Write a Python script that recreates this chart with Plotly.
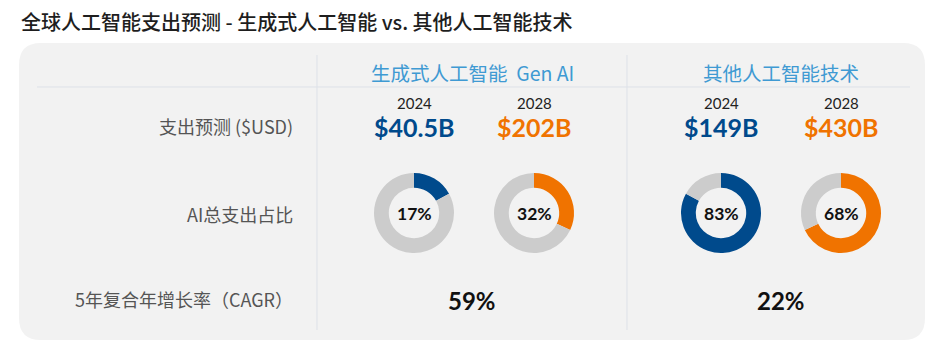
import plotly.graph_objects as go

W, H = 943, 353

title = "全球人工智能支出预测 - 生成式人工智能 vs. 其他人工智能技术"
groups = ["生成式人工智能  Gen AI", "其他人工智能技术"]
row_labels = ["支出预测 ($USD)", "AI总支出占比", "5年复合年增长率（CAGR）"]
years = ["2024", "2028", "2024", "2028"]
spend = ["$40.5B", "$202B", "$149B", "$430B"]
share = [17, 32, 83, 68]
cagr = ["59%", "22%"]

BLUE = "#004a8c"
ORANGE = "#f07300"
GRAY = "#cccccc"
HEAD = "#3f9ad3"
CJK = "Noto Sans CJK SC"
NUM = "Lato"

# layout positions (pixels)
col_x = [414, 534, 721, 841]
group_x = [472, 781]
series_colors = [BLUE, ORANGE, BLUE, ORANGE]
donut_cy = 213
donut_r = 40

fig = go.Figure()

# invisible scatter to establish pixel axes
fig.add_trace(go.Scatter(x=[0, W], y=[0, H], mode="markers",
                         marker=dict(opacity=0), hoverinfo="skip", showlegend=False))

for i, v in enumerate(share):
    cx = col_x[i]
    fig.add_trace(go.Pie(
        values=[v, 100 - v],
        marker=dict(colors=[series_colors[i], GRAY], line=dict(width=0)),
        hole=0.63, sort=False, direction="clockwise", rotation=0,
        textinfo="none", hoverinfo="skip", showlegend=False,
        domain=dict(x=[(cx - donut_r) / W, (cx + donut_r) / W],
                    y=[(H - donut_cy - donut_r) / H, (H - donut_cy + donut_r) / H]),
    ))

shapes = []
# rounded panel
x0, y0, x1, y1, r = 19, 43, 925, 340, 22
path = (f"M {x0+r},{y0} L {x1-r},{y0} Q {x1},{y0} {x1},{y0+r} "
        f"L {x1},{y1-r} Q {x1},{y1} {x1-r},{y1} L {x0+r},{y1} "
        f"Q {x0},{y1} {x0},{y1-r} L {x0},{y0+r} Q {x0},{y0} {x0+r},{y0} Z")
shapes.append(dict(type="path", path=path, xref="x", yref="y",
                   fillcolor="#f2f2f2", line=dict(width=0), layer="below"))
# horizontal rule
shapes.append(dict(type="line", x0=37, x1=910, y0=87, y1=87, xref="x", yref="y",
                   line=dict(color="#dde1e8", width=1), layer="below"))
# vertical rules
for vx in [317, 627]:
    shapes.append(dict(type="line", x0=vx, x1=vx, y0=55, y1=330, xref="x", yref="y",
                       line=dict(color="#dde1e8", width=1), layer="below"))

ann = []
ann.append(dict(x=19, y=21, text=title, xanchor="left", yanchor="middle", showarrow=False,
                font=dict(family=CJK, size=20, color="#1e1e1e", weight=500)))
for gx, g in zip(group_x, groups):
    ann.append(dict(x=gx, y=72, text=g, xanchor="center", yanchor="middle", showarrow=False,
                    font=dict(family=CJK, size=19.5, color=HEAD)))
for ry, lab in zip([126, 214, 299], row_labels):
    ann.append(dict(x=295, y=ry, text=lab, xanchor="right", yanchor="middle", showarrow=False,
                    font=dict(family=CJK, size=18, color="#555555")))
for i in range(4):
    ann.append(dict(x=col_x[i], y=103, text=years[i], xanchor="center", yanchor="middle",
                    showarrow=False, font=dict(family=NUM, size=15, color="#222222")))
    ann.append(dict(x=col_x[i], y=127, text=f"<b>{spend[i]}</b>", xanchor="center",
                    yanchor="middle", showarrow=False,
                    font=dict(family=NUM, size=25, color=series_colors[i])))
    ann.append(dict(x=col_x[i], y=donut_cy, text=f"<b>{share[i]}%</b>", xanchor="center",
                    yanchor="middle", showarrow=False,
                    font=dict(family=NUM, size=17.5, color="#111111")))
for gx, c in zip(group_x, cagr):
    ann.append(dict(x=gx, y=300, text=f"<b>{c}</b>", xanchor="center", yanchor="middle",
                    showarrow=False, font=dict(family=NUM, size=24, color="#111111")))

fig.update_layout(
    width=W, height=H, margin=dict(l=0, r=0, t=0, b=0),
    paper_bgcolor="white", plot_bgcolor="white",
    xaxis=dict(range=[0, W], visible=False, fixedrange=True),
    yaxis=dict(range=[H, 0], visible=False, fixedrange=True),
    shapes=shapes, annotations=ann, showlegend=False,
)

fig.write_html("out.html", config={"displayModeBar": False})
